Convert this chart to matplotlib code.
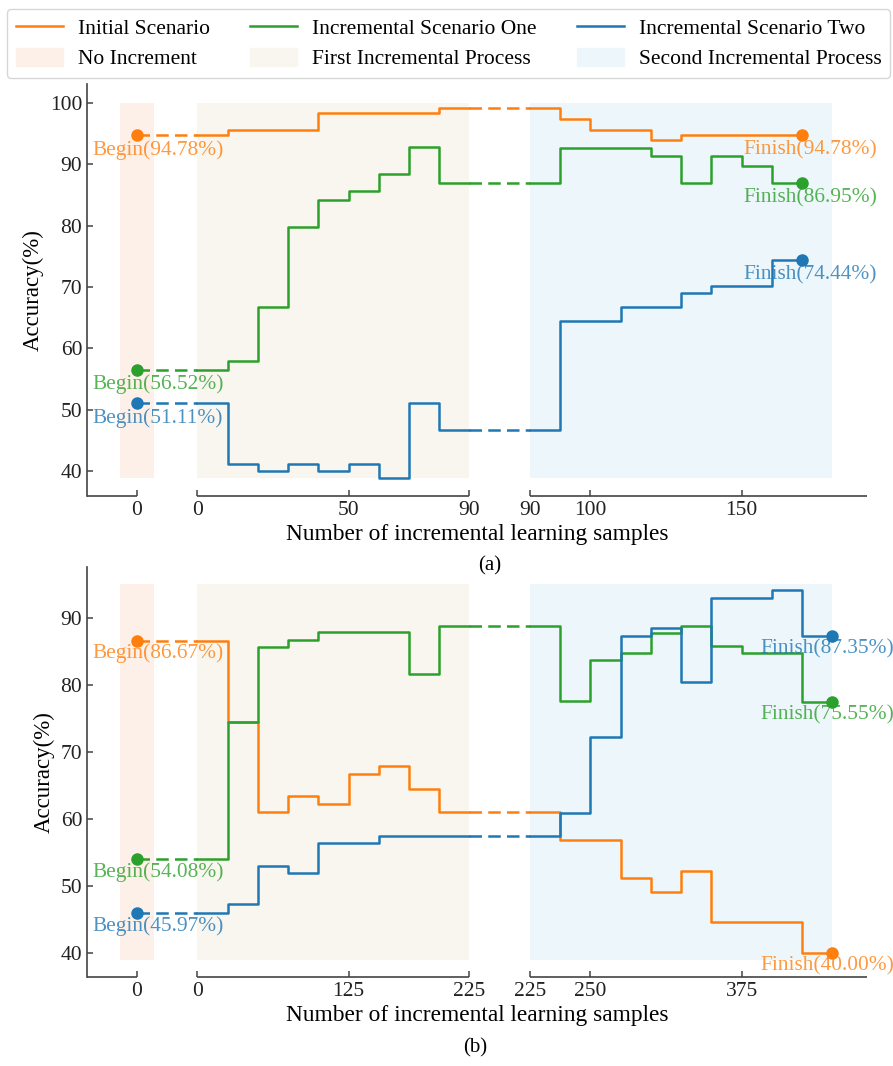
import numpy as np
import matplotlib.pyplot as plt
from matplotlib.lines import Line2D
from matplotlib.patches import Patch

plt.rcParams['font.family'] = ['Liberation Serif', 'DejaVu Serif']

# ── Palette ────────────────────────────────────────────────────────────────────
C_INIT = "#ff7f0e"
C_ONE = "#2ca02c"
C_TWO = "#1f77b4"
C_NONE = "#fdf0e8"
C_FIRST = "#f8f6ef"
C_SECOND = "#edf6fa"
C_AXIS = "#444444"

# ── Data: panel (a) ────────────────────────────────────────────────────────────
A_FIRST_X = [0, 10, 20, 30, 40, 50, 60, 70, 80, 90]
A_SECOND_X = [90, 100, 110, 120, 130, 140, 150, 160, 170]
A_INIT_FIRST = [94.78, 95.65, 95.65, 95.65, 98.30, 98.30, 98.30, 98.30, 99.20]
A_INIT_SECOND = [97.40, 95.60, 95.60, 93.90, 94.78, 94.78, 94.78, 94.78]
A_ONE_FIRST = [56.52, 58.00, 66.80, 79.80, 84.10, 85.60, 88.40, 92.80, 86.95]
A_ONE_SECOND = [92.70, 92.70, 92.70, 91.30, 86.95, 91.30, 89.80, 86.95]
A_TWO_FIRST = [51.11, 41.20, 40.00, 41.10, 40.00, 41.10, 38.90, 51.11, 46.65]
A_TWO_SECOND = [64.50, 64.50, 66.70, 66.70, 69.00, 70.10, 70.10, 74.44]
A_BEGIN_TXT = ["Begin(94.78%)", "Begin(56.52%)", "Begin(51.11%)"]
A_FINISH_TXT = ["Finish(94.78%)", "Finish(86.95%)", "Finish(74.44%)"]
A_TICKS_FIRST = [0, 50, 90]
A_TICKS_SECOND = [100, 150]

# ── Data: panel (b) ────────────────────────────────────────────────────────────
B_FIRST_X = [0, 25, 50, 75, 100, 125, 150, 175, 200, 225]
B_SECOND_X = [225, 250, 275, 300, 325, 350, 375, 400, 425, 450]
B_INIT_FIRST = [86.67, 74.45, 61.10, 63.40, 62.20, 66.80, 67.90, 64.50, 61.10]
B_INIT_SECOND = [56.80, 56.80, 51.20, 49.05, 52.30, 44.60, 44.60, 44.60, 40.00]
B_ONE_FIRST = [54.08, 74.50, 85.70, 86.80, 87.90, 87.90, 87.90, 81.70, 88.80]
B_ONE_SECOND = [77.60, 83.70, 84.85, 87.85, 88.85, 85.80, 84.80, 84.80, 77.55]
B_TWO_FIRST = [45.97, 47.30, 53.00, 51.90, 56.40, 56.40, 57.50, 57.50, 57.50]
B_TWO_SECOND = [60.90, 72.30, 87.30, 88.50, 80.50, 93.00, 93.00, 94.20, 87.35]
B_BEGIN_TXT = ["Begin(86.67%)", "Begin(54.08%)", "Begin(45.97%)"]
B_FINISH_TXT = ["Finish(40.00%)", "Finish(75.55%)", "Finish(87.35%)"]
B_TICKS_FIRST = [0, 125, 225]
B_TICKS_SECOND = [250, 375]

COLORS = [C_INIT, C_ONE, C_TWO]

# layout of the broken x axis (shared position units)
GAP1, GAP2, SEG2_START = 20, 50, 130
XLIM = (-16.5, 241.5)
FS = 15.4


def draw_panel(ax, scale, x1, x2, firsts, seconds, begin_txt, finish_txt,
               ticks1, ticks2, ylim, shade_y, yticks, fin_dx, txt_dy):
    p1 = lambda x: GAP1 + np.asarray(x, float) / scale
    p2 = lambda x: GAP2 + np.asarray(x, float) / scale

    # shaded stages
    y0, y1 = shade_y
    ax.fill_between([-5.5, 5.5], y0, y1, color=C_NONE, lw=0, zorder=0)
    ax.fill_between([p1(x1[0]), p1(x1[-1])], y0, y1, color=C_FIRST, lw=0, zorder=0)
    ax.fill_between([SEG2_START, SEG2_START + 100], y0, y1, color=C_SECOND, lw=0, zorder=0)

    for col, f, s, bt, ft in zip(COLORS, firsts, seconds, begin_txt, finish_txt):
        # first incremental stage
        ax.plot(p1(x1), f + [f[-1]], drawstyle="steps-post", color=col, lw=1.8, zorder=3)
        # second incremental stage (carries over the last value first)
        xs = np.concatenate([[SEG2_START], p2(x2)])
        ys = [f[-1]] + s + [s[-1]]
        ax.plot(xs, ys, drawstyle="steps-post", color=col, lw=1.8, zorder=3)
        # dashed connectors
        ax.plot([0, p1(x1[0])], [f[0], f[0]], color=col, lw=1.8, ls=(0, (5, 2.5)), zorder=3)
        ax.plot([p1(x1[-1]), SEG2_START], [f[-1], f[-1]], color=col, lw=1.8,
                ls=(0, (5, 2.5)), zorder=3)
        # begin / finish points
        ax.plot([0], [f[0]], "o", color=col, ms=8, zorder=4)
        ax.plot([p2(x2[-1])], [s[-1]], "o", color=col, ms=8, zorder=4)
        ax.annotate(bt, xy=(0, f[0]), xytext=(-44, txt_dy), textcoords="offset pixels",
                    ha="left", va="center", color=col, alpha=0.8, fontsize=FS, zorder=5)
        ax.annotate(ft, xy=(p2(x2[-1]), s[-1]), xytext=(fin_dx, txt_dy),
                    textcoords="offset pixels", ha="left", va="center", color=col,
                    alpha=0.8, fontsize=FS, zorder=5)

    # broken bottom axis
    ax.spines["bottom"].set_visible(False)
    ax.spines["top"].set_visible(False)
    ax.spines["right"].set_visible(False)
    ax.spines["left"].set_color(C_AXIS)
    ax.spines["left"].set_linewidth(1.2)
    tr = ax.get_xaxis_transform()
    for a, b in [(XLIM[0], 0), (p1(x1[0]), p1(x1[-1])), (SEG2_START, XLIM[1])]:
        ax.plot([a, b], [0, 0], transform=tr, color=C_AXIS, lw=1.2, clip_on=False,
                solid_capstyle="butt")

    pos = [0] + list(p1(ticks1)) + [SEG2_START] + list(p2(ticks2))
    labs = ["0"] + [str(t) for t in ticks1] + [str(x1[-1])] + [str(t) for t in ticks2]
    ax.set_xticks(pos)
    ax.set_xticklabels(labs)
    ax.set_yticks(yticks)
    ax.set_xlim(*XLIM)
    ax.set_ylim(*ylim)
    ax.tick_params(direction="in", length=4, width=1.1, color=C_AXIS,
                   labelsize=15.5, labelcolor="#222222")
    ax.set_xlabel("Number of incremental learning samples", fontsize=16.8, labelpad=3)
    ax.set_ylabel("Accuracy(%)", fontsize=16.5, labelpad=4)


fig = plt.figure(figsize=(8.93, 10.66), dpi=100)
W, H = 893, 1066
ax_a = fig.add_axes([87 / W, 1 - 496 / H, (867 - 87) / W, (496 - 84) / H])
ax_b = fig.add_axes([87 / W, 1 - 977 / H, (867 - 87) / W, (977 - 567) / H])

draw_panel(ax_a, 1.0, A_FIRST_X, A_SECOND_X,
           [A_INIT_FIRST, A_ONE_FIRST, A_TWO_FIRST],
           [A_INIT_SECOND, A_ONE_SECOND, A_TWO_SECOND],
           A_BEGIN_TXT, A_FINISH_TXT, A_TICKS_FIRST, A_TICKS_SECOND,
           (35.9, 103.1), (38.8, 100.0), [40, 50, 60, 70, 80, 90, 100], -59, -15)
draw_panel(ax_b, 2.5, B_FIRST_X, B_SECOND_X,
           [B_INIT_FIRST, B_ONE_FIRST, B_TWO_FIRST],
           [B_INIT_SECOND, B_ONE_SECOND, B_TWO_SECOND],
           B_BEGIN_TXT, B_FINISH_TXT, B_TICKS_FIRST, B_TICKS_SECOND,
           (36.4, 97.66), (38.9, 95.1), [40, 50, 60, 70, 80, 90], -72, -13)

fig.text(490 / W, 1 - 566 / H, "(a)", ha="center", va="center", fontsize=15)
fig.text(475 / W, 1 - 1048 / H, "(b)", ha="center", va="center", fontsize=15)

# legend (column-major order for ncol=3)
handles = [Line2D([], [], color=C_INIT, lw=1.8), Patch(color=C_NONE),
           Line2D([], [], color=C_ONE, lw=1.8), Patch(color=C_FIRST),
           Line2D([], [], color=C_TWO, lw=1.8), Patch(color=C_SECOND)]
labels = ["Initial Scenario", "No Increment",
          "Incremental Scenario One", "First Incremental Process",
          "Incremental Scenario Two", "Second Incremental Process"]
fig.legend(handles, labels, ncol=3, loc="upper left",
           bbox_to_anchor=(7 / W, 1 - 9 / H), fontsize=15.5, frameon=True,
           edgecolor="#cccccc", fancybox=True, handlelength=2.2, handletextpad=0.7,
           handleheight=0.9, columnspacing=1.85, borderaxespad=0, borderpad=0.4,
           labelspacing=0.42)

fig.savefig("out.png", dpi=100)
